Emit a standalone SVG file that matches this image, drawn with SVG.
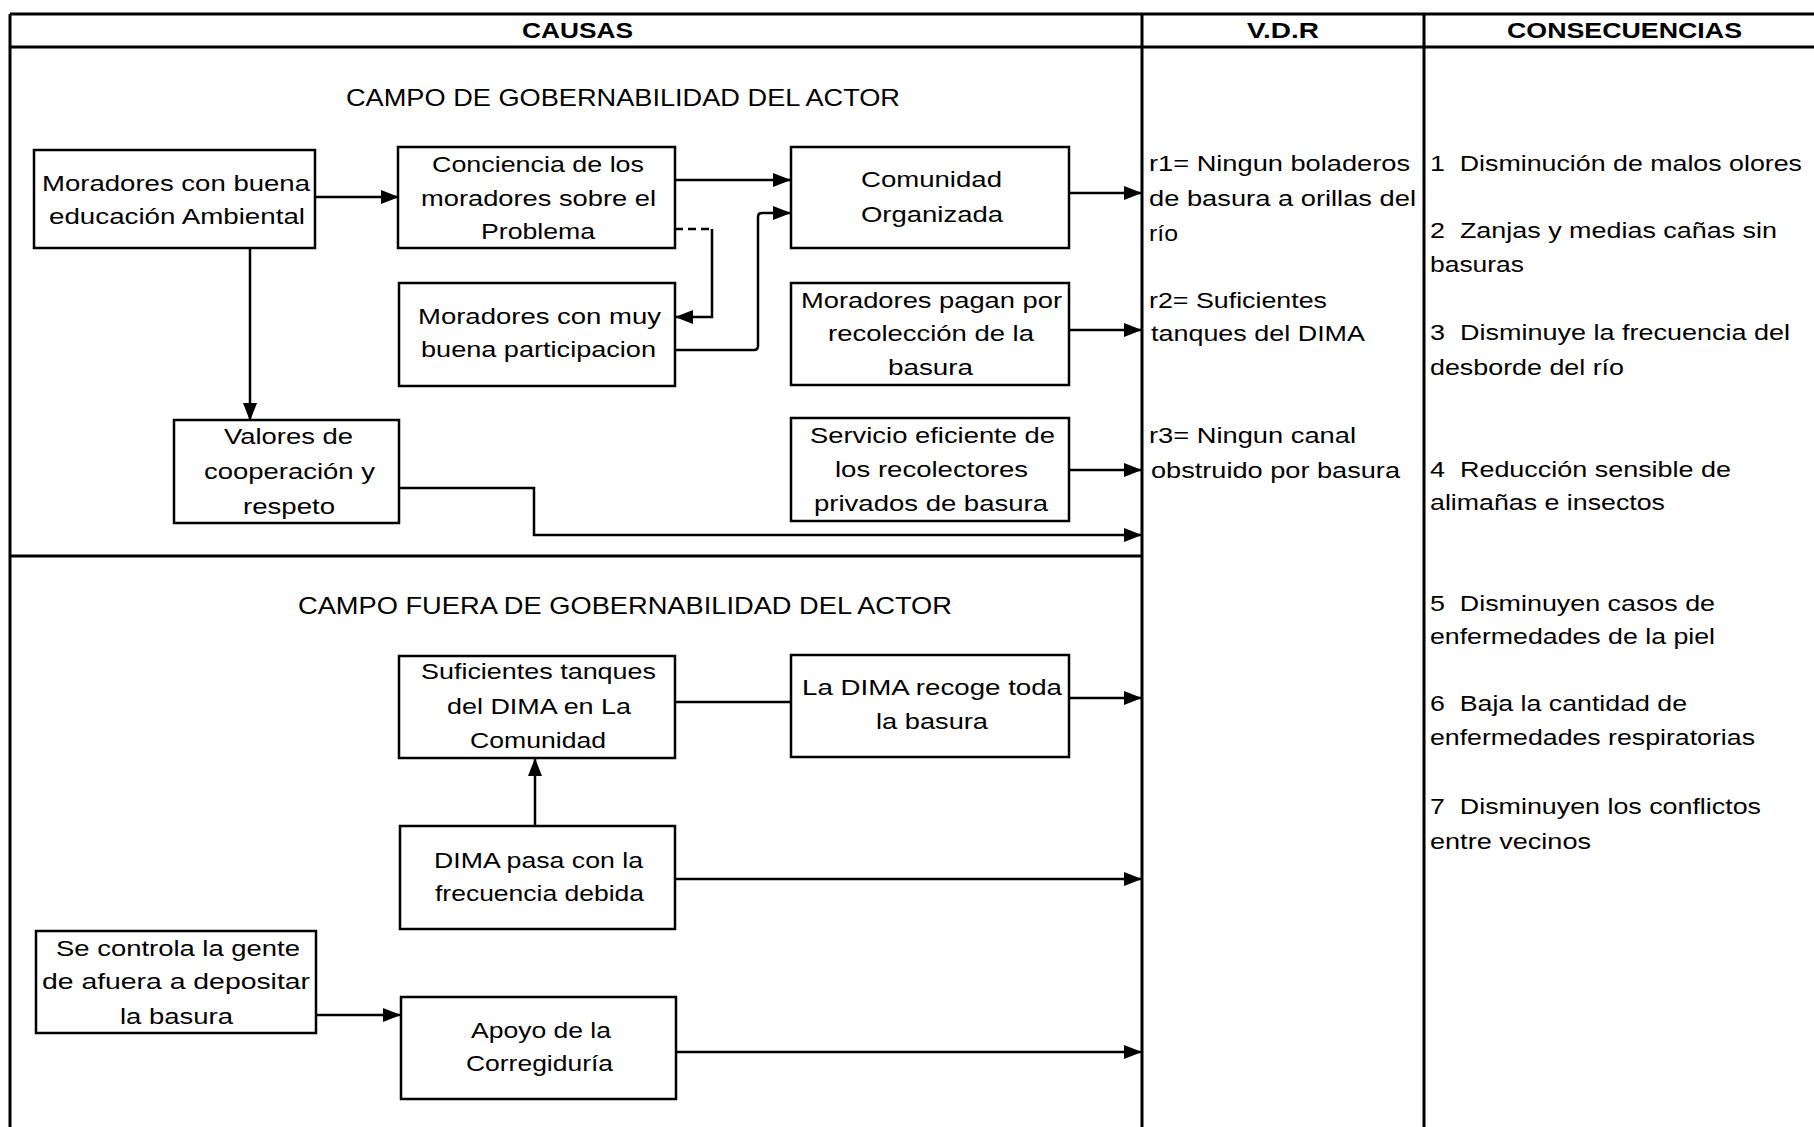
<svg xmlns="http://www.w3.org/2000/svg" width="1814" height="1127" viewBox="0 0 1814 1127">
<style>
.frame{fill:none;stroke:#000;stroke-width:3}
.box{fill:#fff;stroke:#000;stroke-width:2.5}
.conn{fill:none;stroke:#000;stroke-width:2.5}
.dash{fill:none;stroke:#000;stroke-width:2.5;stroke-dasharray:8 5}
text{font-family:"Liberation Sans",Arial,sans-serif;font-size:22px;fill:#000;white-space:pre}
.h{font-weight:bold}
.sub{font-size:24px}
</style>
<defs>
<marker id="ah" markerUnits="userSpaceOnUse" markerWidth="18" markerHeight="14" refX="17" refY="7" orient="auto">
<path d="M0,0 L18,7 L0,14 z" fill="#000"/>
</marker>
</defs>
<rect width="1814" height="1127" fill="#fff"/>
<g id="frame">
<line class="frame" x1="10" y1="14" x2="1814" y2="14"/>
<line class="frame" x1="10" y1="47" x2="1814" y2="47"/>
<line class="frame" x1="10" y1="14" x2="10" y2="1127"/>
<line class="frame" x1="1142" y1="14" x2="1142" y2="1127"/>
<line class="frame" x1="1424" y1="14" x2="1424" y2="1127"/>
<line class="frame" x1="10" y1="556" x2="1142" y2="556"/>
<text class="h" x="522" y="38" textLength="111" lengthAdjust="spacingAndGlyphs">CAUSAS</text>
<text class="h" x="1247" y="38" textLength="72" lengthAdjust="spacingAndGlyphs">V.D.R</text>
<text class="h" x="1507" y="38" textLength="235" lengthAdjust="spacingAndGlyphs">CONSECUENCIAS</text>
<text class="sub" x="346" y="106" textLength="554" lengthAdjust="spacingAndGlyphs">CAMPO DE GOBERNABILIDAD DEL ACTOR</text>
<text class="sub" x="298" y="614" textLength="654" lengthAdjust="spacingAndGlyphs">CAMPO FUERA DE GOBERNABILIDAD DEL ACTOR</text>
</g>
<g id="connectors">
<path class="conn" d="M315,197 H398" marker-end="url(#ah)"/>
<path class="conn" d="M250,248 V420" marker-end="url(#ah)"/>
<path class="conn" d="M675,180 H790" marker-end="url(#ah)"/>
<path class="dash" d="M675,229 H712"/>
<path class="conn" d="M712,229 V317 H676" marker-end="url(#ah)"/>
<path class="conn" d="M675,350 H754 Q758,350 758,346 V217 Q758,213 762,213 H790" marker-end="url(#ah)"/>
<path class="conn" d="M1069,193 H1141" marker-end="url(#ah)"/>
<path class="conn" d="M1069,330 H1141" marker-end="url(#ah)"/>
<path class="conn" d="M1069,470 H1141" marker-end="url(#ah)"/>
<path class="conn" d="M399,488 H534 V535 H1141" marker-end="url(#ah)"/>
<path class="conn" d="M675,702 H791"/>
<path class="conn" d="M1069,698 H1141" marker-end="url(#ah)"/>
<path class="conn" d="M535,826 V759" marker-end="url(#ah)"/>
<path class="conn" d="M675,879 H1141" marker-end="url(#ah)"/>
<path class="conn" d="M316,1015 H400" marker-end="url(#ah)"/>
<path class="conn" d="M676,1052 H1141" marker-end="url(#ah)"/>
</g>
<g id="n1"><rect class="box" x="34" y="150" width="281" height="98"/>
<text x="42" y="191" textLength="268" lengthAdjust="spacingAndGlyphs">Moradores con buena</text>
<text x="49" y="224" textLength="256" lengthAdjust="spacingAndGlyphs">educación Ambiental</text></g>
<g id="n2"><rect class="box" x="398" y="147" width="277" height="101"/>
<text x="432" y="172" textLength="212" lengthAdjust="spacingAndGlyphs">Conciencia de los</text>
<text x="421" y="206" textLength="235" lengthAdjust="spacingAndGlyphs">moradores sobre el</text>
<text x="481" y="239" textLength="114" lengthAdjust="spacingAndGlyphs">Problema</text></g>
<g id="n3"><rect class="box" x="791" y="147" width="278" height="101"/>
<text x="861" y="187" textLength="141" lengthAdjust="spacingAndGlyphs">Comunidad</text>
<text x="861" y="222" textLength="142" lengthAdjust="spacingAndGlyphs">Organizada</text></g>
<g id="n4"><rect class="box" x="399" y="283" width="276" height="103"/>
<text x="418" y="324" textLength="243" lengthAdjust="spacingAndGlyphs">Moradores con muy</text>
<text x="421" y="357" textLength="235" lengthAdjust="spacingAndGlyphs">buena participacion</text></g>
<g id="n5"><rect class="box" x="791" y="283" width="278" height="102"/>
<text x="801" y="308" textLength="261" lengthAdjust="spacingAndGlyphs">Moradores pagan por</text>
<text x="828" y="341" textLength="206" lengthAdjust="spacingAndGlyphs">recolección de la</text>
<text x="888" y="375" textLength="85" lengthAdjust="spacingAndGlyphs">basura</text></g>
<g id="n6"><rect class="box" x="174" y="420" width="225" height="103"/>
<text x="224" y="444" textLength="129" lengthAdjust="spacingAndGlyphs">Valores de</text>
<text x="204" y="479" textLength="171" lengthAdjust="spacingAndGlyphs">cooperación y</text>
<text x="243" y="514" textLength="92" lengthAdjust="spacingAndGlyphs">respeto</text></g>
<g id="n7"><rect class="box" x="791" y="418" width="278" height="103"/>
<text x="810" y="443" textLength="245" lengthAdjust="spacingAndGlyphs">Servicio eficiente de</text>
<text x="835" y="477" textLength="193" lengthAdjust="spacingAndGlyphs">los recolectores</text>
<text x="814" y="511" textLength="234" lengthAdjust="spacingAndGlyphs">privados de basura</text></g>
<g id="n8"><rect class="box" x="399" y="656" width="276" height="102"/>
<text x="421" y="679" textLength="235" lengthAdjust="spacingAndGlyphs">Suficientes tanques</text>
<text x="447" y="714" textLength="184" lengthAdjust="spacingAndGlyphs">del DIMA en La</text>
<text x="470" y="748" textLength="136" lengthAdjust="spacingAndGlyphs">Comunidad</text></g>
<g id="n9"><rect class="box" x="791" y="655" width="278" height="102"/>
<text x="802" y="695" textLength="260" lengthAdjust="spacingAndGlyphs">La DIMA recoge toda</text>
<text x="876" y="729" textLength="112" lengthAdjust="spacingAndGlyphs">la basura</text></g>
<g id="n10"><rect class="box" x="400" y="826" width="275" height="103"/>
<text x="434" y="868" textLength="209" lengthAdjust="spacingAndGlyphs">DIMA pasa con la</text>
<text x="435" y="901" textLength="209" lengthAdjust="spacingAndGlyphs">frecuencia debida</text></g>
<g id="n11"><rect class="box" x="36" y="931" width="280" height="102"/>
<text x="56" y="956" textLength="244" lengthAdjust="spacingAndGlyphs">Se controla la gente</text>
<text x="42" y="989" textLength="268" lengthAdjust="spacingAndGlyphs">de afuera a depositar</text>
<text x="120" y="1024" textLength="113" lengthAdjust="spacingAndGlyphs">la basura</text></g>
<g id="n12"><rect class="box" x="401" y="997" width="275" height="102"/>
<text x="471" y="1038" textLength="140" lengthAdjust="spacingAndGlyphs">Apoyo de la</text>
<text x="466" y="1071" textLength="147" lengthAdjust="spacingAndGlyphs">Corregiduría</text></g>
<g id="vdr">
<text x="1149" y="171" textLength="261" lengthAdjust="spacingAndGlyphs">r1= Ningun boladeros</text>
<text x="1149" y="206" textLength="267" lengthAdjust="spacingAndGlyphs">de basura a orillas del</text>
<text x="1149" y="241" textLength="29" lengthAdjust="spacingAndGlyphs">río</text>
<text x="1149" y="308" textLength="178" lengthAdjust="spacingAndGlyphs">r2= Suficientes</text>
<text x="1151" y="341" textLength="214" lengthAdjust="spacingAndGlyphs">tanques del DIMA</text>
<text x="1149" y="443" textLength="207" lengthAdjust="spacingAndGlyphs">r3= Ningun canal</text>
<text x="1151" y="478" textLength="249" lengthAdjust="spacingAndGlyphs">obstruido por basura</text>
</g>
<g id="consecuencias">
<text x="1430" y="171" textLength="372" lengthAdjust="spacingAndGlyphs">1  Disminución de malos olores</text>
<text x="1430" y="238" textLength="347" lengthAdjust="spacingAndGlyphs">2  Zanjas y medias cañas sin</text>
<text x="1430" y="272" textLength="94" lengthAdjust="spacingAndGlyphs">basuras</text>
<text x="1430" y="340" textLength="360" lengthAdjust="spacingAndGlyphs">3  Disminuye la frecuencia del</text>
<text x="1430" y="375" textLength="194" lengthAdjust="spacingAndGlyphs">desborde del río</text>
<text x="1430" y="477" textLength="301" lengthAdjust="spacingAndGlyphs">4  Reducción sensible de</text>
<text x="1430" y="510" textLength="235" lengthAdjust="spacingAndGlyphs">alimañas e insectos</text>
<text x="1430" y="611" textLength="285" lengthAdjust="spacingAndGlyphs">5  Disminuyen casos de</text>
<text x="1430" y="644" textLength="285" lengthAdjust="spacingAndGlyphs">enfermedades de la piel</text>
<text x="1430" y="711" textLength="257" lengthAdjust="spacingAndGlyphs">6  Baja la cantidad de</text>
<text x="1430" y="745" textLength="325" lengthAdjust="spacingAndGlyphs">enfermedades respiratorias</text>
<text x="1430" y="814" textLength="331" lengthAdjust="spacingAndGlyphs">7  Disminuyen los conflictos</text>
<text x="1430" y="849" textLength="161" lengthAdjust="spacingAndGlyphs">entre vecinos</text>
</g>
</svg>
